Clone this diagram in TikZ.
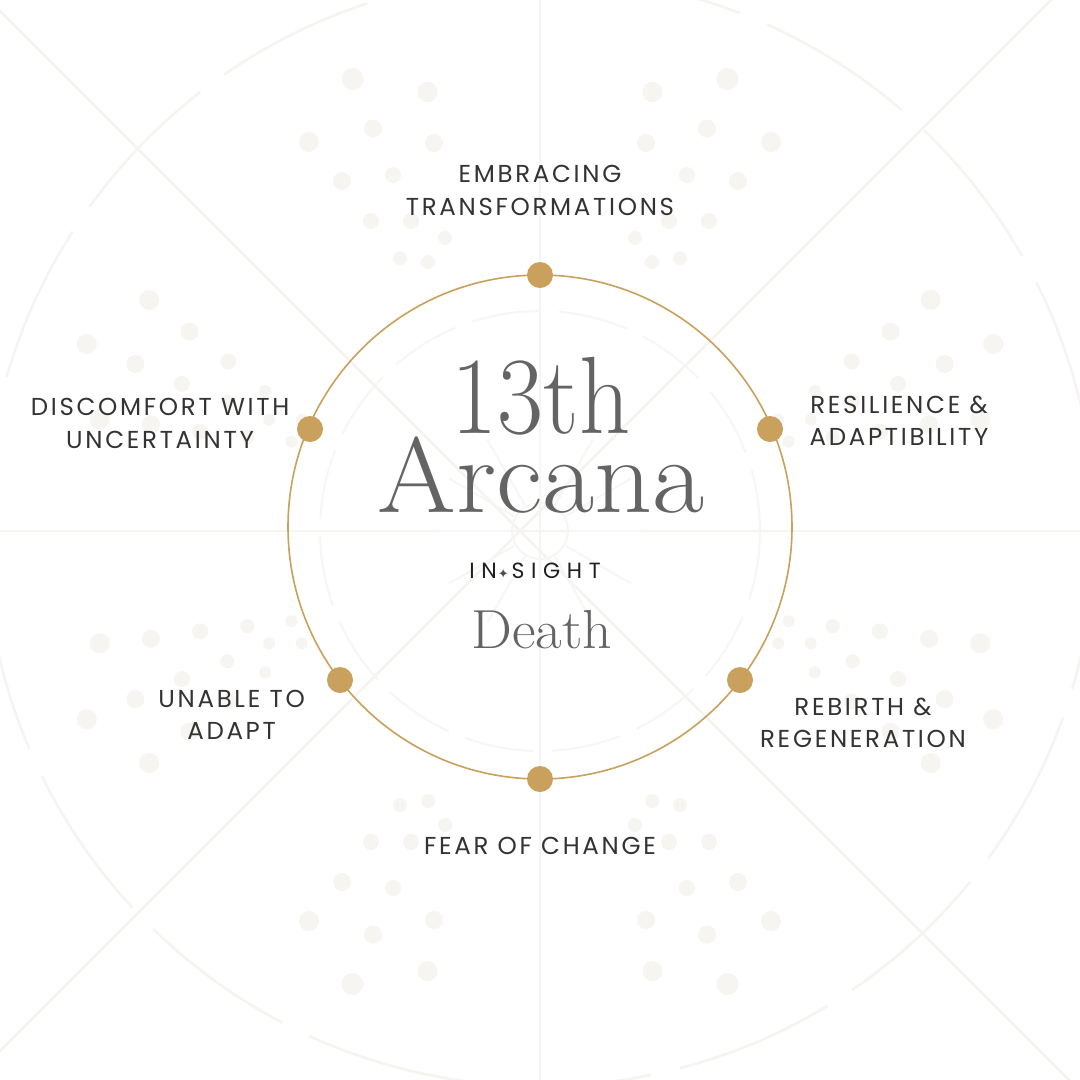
\documentclass[tikz,border=0pt]{standalone}
\usepackage{fontspec}
\usetikzlibrary{calc}
\newfontfamily\labelfont[LetterSpace=11]{Poppins}
\newfontfamily\insightfont[LetterSpace=30]{Poppins}
\newfontfamily\symfont{DejaVu Sans}
\definecolor{gold}{HTML}{C9A05C}
\definecolor{faintline}{HTML}{F5F4F1}
\definecolor{fainterline}{HTML}{F7F6F4}
\definecolor{faintdotc}{HTML}{F6F5F1}
\definecolor{labeltext}{HTML}{333333}
\definecolor{titlegray}{HTML}{646464}
\begin{document}
\begin{tikzpicture}[x=1pt,y=-1pt,
  lbl/.style={font=\labelfont\fontsize{24.5}{32.5}\selectfont, text=labeltext, align=center, inner sep=0pt},
  gdot/.style={circle, fill=gold, minimum size=26pt, inner sep=0pt},
  titletext/.style={text=titlegray, inner sep=0pt, anchor=base},
  bgline/.style={draw=faintline, line width=2.5pt},
  bgdash/.style={draw=faintline, line width=2.5pt, dash pattern=on 160pt off 30pt},
  faintdot/.style={fill=faintdotc}]
\fill[white] (0,0) rectangle (1080,1080);
\useasboundingbox (0,0) rectangle (1080,1080);
% background lines
\begin{scope}
\clip (0,0) rectangle (1080,1080);
\draw[bgline] (540,0) -- (540,1080);
\draw[bgline] (0,531) -- (1080,531);
\draw[bgline] (-20,-9) -- (1100,1111);
\draw[bgline] (1100,-49) -- (-20,1071);
\draw[bgdash] (540,531) circle[radius=555];
\draw[bgdash, draw=fainterline, dash pattern=on 70pt off 18pt, line width=2pt] (540,531) circle[radius=220];
\draw[bgline, draw=fainterline, line width=2pt] (540,531) circle[radius=28];
\foreach \a in {0,30,...,330} {
  \draw[bgline, draw=fainterline, line width=2pt] ($(540,531)+(\a:30)$) -- ($(540,531)+(\a:105)$);
}
% dots: top and bottom clusters
\foreach \dx/\yy/\r in {187.5/79/11, 112.5/92/10, 167/128.5/9, 231/142/10, 106/143/9, 198/181/9, 147/175/8, 169/221/8, 129/221/8, 95/238/7, 140/258/7, 112/262/7} {
  \fill[faintdot] (540+\dx,\yy) circle[radius=\r];
  \fill[faintdot] (540-\dx,\yy) circle[radius=\r];
  \fill[faintdot] (540+\dx,1063-\yy) circle[radius=\r];
  \fill[faintdot] (540-\dx,1063-\yy) circle[radius=\r];
}
% side clusters
\foreach \xx/\yy/\r in {788.6/621.3/6, 832.7/626.1/7, 879.9/631.3/8, 929.1/638.8/9, 980.1/643.3/10, 778.3/643.3/6, 810.7/643.3/6, 852.7/661.2/7, 814.8/672.2/6, 898.1/679.1/8, 944.6/699.1/9, 993.2/719.1/10, 930.8/763.1/10, 890.5/731.5/9, 851.6/701.5/8} {
  \fill[faintdot] (\xx,\yy) circle[radius=\r];
  \fill[faintdot] (1080-\xx,\yy) circle[radius=\r];
  \fill[faintdot] (\xx,1063-\yy) circle[radius=\r];
  \fill[faintdot] (1080-\xx,1063-\yy) circle[radius=\r];
}
\end{scope}
% main ring
\node[circle, draw=gold, line width=1.6pt, minimum size=504pt, inner sep=0pt] (ring) at (540,527) {};
% gold dots
\node[gdot] (dtop) at (540,275) {};
\node[gdot] (dul) at (310,429) {};
\node[gdot] (dur) at (770,429) {};
\node[gdot] (dll) at (340,680) {};
\node[gdot] (dlr) at (740,680) {};
\node[gdot] (dbot) at (540,779) {};
% labels
\node[lbl] (ltop) at (540,190.5) {EMBRACING\\TRANSFORMATIONS};
\node[lbl] (lul) at (160,423.5) {DISCOMFORT WITH\\UNCERTAINTY};
\node[lbl] (lur) at (899,421) {RESILIENCE \&\\ADAPTIBILITY};
\node[lbl] (lll) at (231.6,715) {UNABLE TO\\ADAPT};
\node[lbl] (llr) at (863,723) {REBIRTH \&\\REGENERATION};
\node[lbl] (lbot) at (540,845.6) {FEAR OF CHANGE};
% titles
\node[text=titlegray, inner sep=0pt, align=center, anchor=south, font=\fontsize{107}{79}\selectfont] (title) at (541,514)
  {{\fontsize{110}{79}\selectfont\scalebox{0.91}[1]{13th}}\\\scalebox{1.06}[1]{Arcana}};
\node[inner sep=0pt, anchor=base, text=black!88] (tins) at (535,578) {\insightfont\fontsize{22}{22}\selectfont IN\hspace{1pt}{\symfont\fontsize{13}{13}\selectfont\color{black!70}✦}\hspace{3pt}SIGHT};
\node[titletext, font=\fontsize{55}{55}\selectfont] (tdeath) at (542,648) {\scalebox{1.05}[1]{Death}};
\end{tikzpicture}
\end{document}
